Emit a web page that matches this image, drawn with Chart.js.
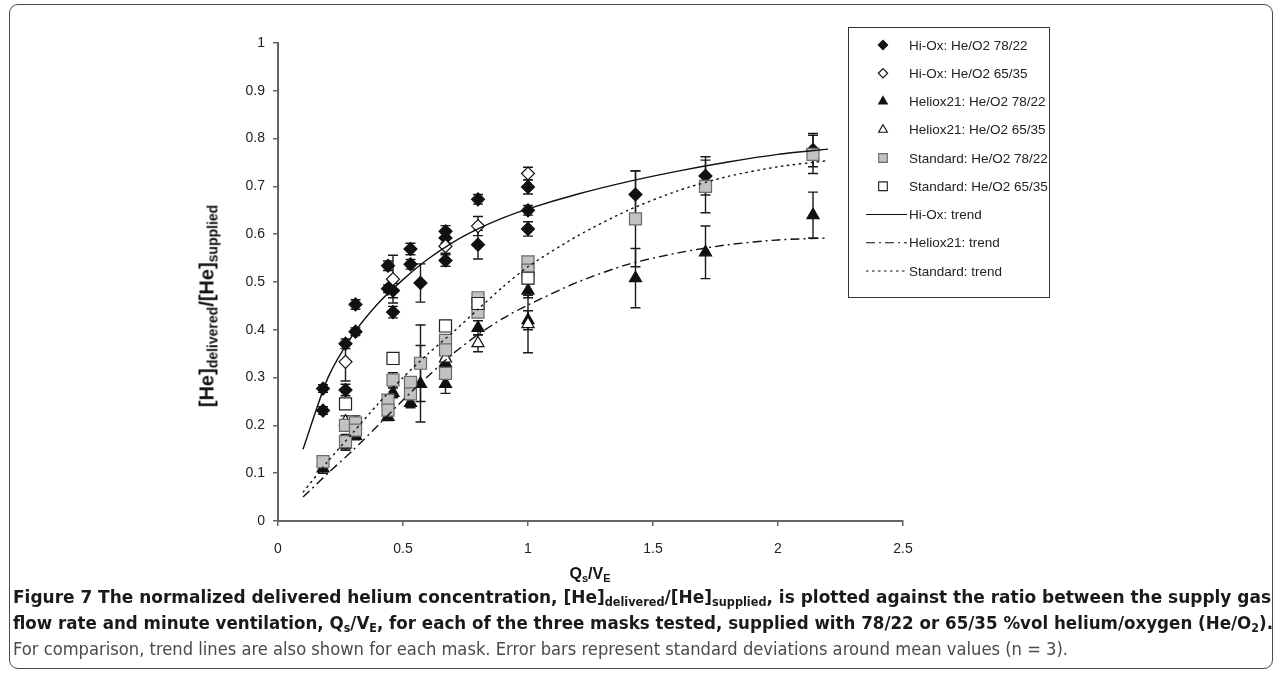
<!DOCTYPE html>
<html><head><meta charset="utf-8">
<script src="https://cdn.jsdelivr.net/npm/chart.js@4.4.1/dist/chart.umd.min.js"></script>
<style>
html,body{margin:0;padding:0;background:#fff;width:1282px;height:676px;overflow:hidden}
#frame{position:absolute;left:9px;top:4px;width:1264px;height:665px;border:1.5px solid #4a4a4a;border-radius:9px;box-sizing:border-box}
#c{position:absolute;left:0;top:0}
.ytitle{position:absolute;left:208px;top:306px;transform:translate(-50%,-50%) rotate(-90deg);font-family:"Liberation Sans",Arial,sans-serif;font-weight:bold;font-size:20px;white-space:nowrap;color:#111;line-height:1}
.ytitle sub{font-size:14px;vertical-align:-4px}
.xtitle{position:absolute;left:590px;top:575px;transform:translate(-50%,-50%);font-family:"Liberation Sans",Arial,sans-serif;font-weight:bold;font-size:16px;white-space:nowrap;color:#111;line-height:1}
.xtitle sub{font-size:11px;vertical-align:-3px}
.cap{position:absolute;left:13px;white-space:nowrap;font-family:"DejaVu Sans Condensed","DejaVu Sans",sans-serif;font-stretch:condensed;transform-origin:0 0;line-height:1;font-size:18px;color:#1a1a1a}
.cap.b{font-weight:bold}
.cap sub{font-size:12px;vertical-align:-3px}
.cap.l{color:#4a4a4a;font-weight:normal}
</style></head>
<body>
<div id="frame"></div>
<canvas id="c" width="1282" height="676"></canvas>
<div class="ytitle">[He]<sub>delivered</sub>/[He]<sub>supplied</sub></div>
<div class="xtitle">Q<sub>s</sub>/V<sub>E</sub></div>
<div class="cap b" id="cap1" data-w="1258" style="top:588px">Figure 7 The normalized delivered helium concentration, [He]<sub>delivered</sub>/[He]<sub>supplied</sub>, is plotted against the ratio between the supply gas</div>
<div class="cap b" id="cap2" data-w="1260" style="top:614px">flow rate and minute ventilation, Q<sub>s</sub>/V<sub>E</sub>, for each of the three masks tested, supplied with 78/22 or 65/35 %vol helium/oxygen (He/O<sub>2</sub>).</div>
<div class="cap l" id="cap3" data-w="1055" style="top:640px">For comparison, trend lines are also shown for each mask. Error bars represent standard deviations around mean values (n = 3).</div>
<script>
// ---- data ----
const HIOX78_X = [0.18,0.18,0.27,0.27,0.31,0.31,0.44,0.44,0.46,0.46,0.53,0.53,0.57,0.67,0.67,0.67,0.8,0.8,1,1,1,1.43,1.71,2.14];
const HIOX78_Y = [0.277,0.231,0.371,0.274,0.453,0.396,0.534,0.486,0.482,0.437,0.569,0.537,0.498,0.606,0.592,0.545,0.673,0.578,0.699,0.650,0.611,0.683,0.722,0.776];
const HIOX78_E = [0.008,0.008,0.01,0.012,0.01,0.008,0.01,0.008,0.015,0.012,0.012,0.01,0.04,0.012,0.01,0.012,0.01,0.03,0.015,0.01,0.015,0.05,0.04,0.035];

const HIOX65_X = [0.27,0.46,0.67,0.8,1];
const HIOX65_Y = [0.333,0.506,0.575,0.617,0.727];
const HIOX65_E = [0.04,0.05,0.015,0.02,0.013];

const HEL78_X = [0.18,0.27,0.31,0.44,0.46,0.53,0.57,0.67,0.67,0.8,1,1,1.43,1.71,2.14];
const HEL78_Y = [0.11,0.16,0.178,0.218,0.268,0.247,0.287,0.33,0.287,0.404,0.482,0.42,0.508,0.562,0.64];
const HEL78_E = [0.01,0.012,0.008,0.008,0.01,0.01,0.08,0.01,0.02,0.015,0.015,0.02,0.062,0.055,0.048];

const HEL65_X = [0.27,0.67,0.8,1];
const HEL65_Y = [0.208,0.34,0.372,0.412];
const HEL65_E = [0.012,0.015,0.018,0.06];

const STD78_X = [0.18,0.27,0.27,0.31,0.31,0.44,0.44,0.46,0.53,0.53,0.57,0.67,0.67,0.67,0.8,0.8,1,1,1.43,1.71,2.14];
const STD78_Y = [0.124,0.2,0.166,0.205,0.19,0.253,0.232,0.295,0.29,0.266,0.33,0.378,0.358,0.309,0.467,0.437,0.542,0.525,0.632,0.70,0.767];
const STD78_E = [0.012,0.012,0.015,0.015,0.012,0.01,0.01,0.015,0.012,0.01,0.08,0.01,0.01,0.01,0.01,0.01,0.01,0.01,0.1,0.055,0.04];

const STD65_X = [0.27,0.46,0.67,0.8,1];
const STD65_Y = [0.245,0.34,0.408,0.455,0.508];
const STD65_E = [0.006,0.006,0.006,0.006,0.006];

const TREND_X = [0.1,0.2,0.3,0.4,0.5,0.6,0.7,0.8,0.9,1.0,1.2,1.4,1.6,1.8,2.0,2.2];
const HIOX_TREND = [0.15,0.30,0.39,0.455,0.505,0.548,0.583,0.611,0.634,0.653,0.684,0.71,0.732,0.751,0.767,0.778];
const HEL_TREND  = [0.05,0.10,0.148,0.20,0.253,0.303,0.35,0.39,0.424,0.452,0.50,0.537,0.561,0.578,0.588,0.592];
const STD_TREND  = [0.06,0.125,0.185,0.245,0.30,0.35,0.395,0.443,0.49,0.532,0.597,0.65,0.691,0.721,0.741,0.754];

const X_TICKS = [0,0.5,1,1.5,2,2.5];
const Y_TICKS = [0,0.1,0.2,0.3,0.4,0.5,0.6,0.7,0.8,0.9,1];

const LABELS = ['Hi-Ox: He/O2 78/22','Hi-Ox: He/O2 65/35','Heliox21: He/O2 78/22','Heliox21: He/O2 65/35','Standard: He/O2 78/22','Standard: He/O2 65/35','Hi-Ox: trend','Heliox21: trend','Standard: trend'];

// ---- build ----
const pts = (xs, ys) => xs.map((x,i)=>({x:x, y:ys[i]}));
function pointSet(label, xs, ys, es, style, radius, fill, border){
  return {label, data:pts(xs,ys), errors:es, pointStyle:style, pointRadius:radius, pointHoverRadius:radius,
    backgroundColor:fill, borderColor:border, pointBorderWidth:1.2, showLine:false, legendRadius: radius*0.72};
}
function trendSet(label, ys, dash){
  return {label, data:pts(TREND_X, ys), showLine:true, pointRadius:0, borderColor:'#111', borderWidth:1.4,
    borderDash:dash, tension:0.25, fill:false, isTrend:true};
}
const datasets = [
  trendSet(LABELS[6], HIOX_TREND, []),
  trendSet(LABELS[7], HEL_TREND, [9,4,2,4]),
  trendSet(LABELS[8], STD_TREND, [2.5,3.5]),
  pointSet(LABELS[5], STD65_X, STD65_Y, STD65_E, 'rect', 8.5, '#ffffff', '#222'),
  pointSet(LABELS[4], STD78_X, STD78_Y, STD78_E, 'rect', 8.5, '#c2c2c2', '#6a6a6a'),
  pointSet(LABELS[3], HEL65_X, HEL65_Y, HEL65_E, 'triangle', 7, '#ffffff', '#111'),
  pointSet(LABELS[2], HEL78_X, HEL78_Y, HEL78_E, 'triangle', 7, '#111', '#111'),
  pointSet(LABELS[1], HIOX65_X, HIOX65_Y, HIOX65_E, 'rectRot', 6.5, '#ffffff', '#111'),
  pointSet(LABELS[0], HIOX78_X, HIOX78_Y, HIOX78_E, 'rectRot', 6.5, '#111', '#111'),
];

const errorBars = {
  id:'errorBars',
  beforeDatasetsDraw(chart){
    const ctx = chart.ctx, xs = chart.scales.x, ys = chart.scales.y;
    ctx.save(); ctx.strokeStyle = '#1a1a1a'; ctx.lineWidth = 1.4;
    chart.data.datasets.forEach(ds=>{
      if(!ds.errors) return;
      ds.data.forEach((p,j)=>{
        const e = ds.errors[j];
        const px = xs.getPixelForValue(p.x);
        const y1 = ys.getPixelForValue(p.y+e), y2 = ys.getPixelForValue(p.y-e);
        ctx.beginPath();
        ctx.moveTo(px,y1); ctx.lineTo(px,y2);
        ctx.moveTo(px-5,y1); ctx.lineTo(px+5,y1);
        ctx.moveTo(px-5,y2); ctx.lineTo(px+5,y2);
        ctx.stroke();
      });
    });
    ctx.restore();
  }
};

const boxLegend = {
  id:'boxLegend',
  afterDraw(chart){
    const ctx = chart.ctx;
    const bx = 848, by = 27, bw = 201, bh = 270;
    ctx.save();
    ctx.strokeStyle = '#333'; ctx.lineWidth = 1;
    ctx.strokeRect(bx+0.5, by+0.5, bw, bh);
    ctx.font = '13.5px "Liberation Sans", Arial, sans-serif';
    ctx.fillStyle = '#222'; ctx.textBaseline = 'middle';
    LABELS.forEach((lab,i)=>{
      const ds = chart.data.datasets.find(d=>d.label===lab);
      const cy = by + 18 + i*28.25;
      if(ds.isTrend){
        ctx.save(); ctx.strokeStyle = '#111'; ctx.lineWidth = 1.2; ctx.setLineDash(ds.borderDash);
        ctx.beginPath(); ctx.moveTo(866, cy); ctx.lineTo(907, cy); ctx.stroke(); ctx.restore();
      } else {
        ctx.save();
        ctx.fillStyle = ds.backgroundColor; ctx.strokeStyle = ds.borderColor; ctx.lineWidth = 1.1;
        Chart.helpers.drawPoint(ctx, {pointStyle:ds.pointStyle, radius:ds.legendRadius, rotation:0, borderWidth:1.1}, 883, cy);
        ctx.restore();
      }
      ctx.fillStyle = '#222';
      ctx.fillText(lab, 909, cy+1);
    });
    ctx.restore();
  }
};

const tickFont = {family:'"Liberation Sans", Arial, sans-serif', size:14};
new Chart(document.getElementById('c').getContext('2d'), {
  type:'scatter',
  data:{datasets},
  options:{
    responsive:false, animation:false, devicePixelRatio:1,
    layout:{padding:{left:228, right:379, top:43, bottom:115}},
    plugins:{legend:{display:false}, tooltip:{enabled:false}},
    scales:{
      x:{type:'linear', min:0, max:2.5,
        afterBuildTicks:s=>{s.ticks = X_TICKS.map(v=>({value:v}));},
        ticks:{color:'#222', font:tickFont, padding:15, maxRotation:0, callback:v=>String(v)},
        grid:{drawOnChartArea:false, drawTicks:true, tickLength:5, color:'#666', lineWidth:1.5},
        border:{color:'#666', width:2},
        afterFit:s=>{s.height = 40;}},
      y:{type:'linear', min:0, max:1,
        afterBuildTicks:s=>{s.ticks = Y_TICKS.map(v=>({value:v}));},
        ticks:{color:'#222', font:tickFont, padding:8, callback:v=>String(v)},
        grid:{drawOnChartArea:false, drawTicks:true, tickLength:5, color:'#666', lineWidth:1.5},
        border:{color:'#666', width:2},
        afterFit:s=>{s.width = 50;}}
    }
  },
  plugins:[errorBars, boxLegend]
});

// fit caption lines to reference widths
document.querySelectorAll('.cap').forEach(el=>{
  const w = el.getBoundingClientRect().width;
  const t = parseFloat(el.dataset.w);
  el.style.transform = 'scaleX(' + (t/w) + ')';
});
</script>
</body></html>
